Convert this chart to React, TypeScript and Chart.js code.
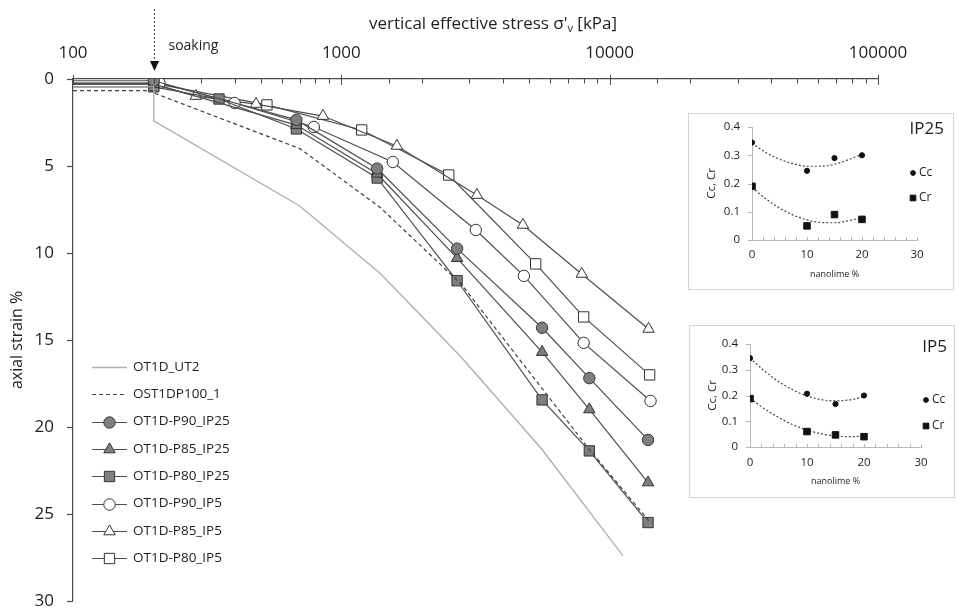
import React, { useEffect, useRef } from 'react';
import { Chart, registerables } from 'chart.js';

Chart.register(...registerables);

const FONT = "'Open Sans', 'Noto Sans', sans-serif";

// ---------- main chart data (stress kPa, axial strain %) ----------
const ut2Stress = [100, 200, 200, 700, 1400, 2800, 5600, 11200];
const ut2Strain = [0.45, 0.45, 2.4, 7.3, 11.2, 16.0, 21.3, 27.4];
const ost100Stress = [100, 200, 200, 700, 1400, 2800, 8400, 14000];
const ost100Strain = [0.67, 0.67, 0.8, 4.0, 7.4, 11.8, 21.3, 25.4];
const p90ip25Stress = [100, 200, 680, 1360, 2700, 5600, 8400, 13900];
const p90ip25Strain = [0.1, 0.1, 2.35, 5.15, 9.75, 14.3, 17.2, 20.75];
const p85ip25Stress = [100, 200, 680, 1360, 2700, 5600, 8400, 13900];
const p85ip25Strain = [0.3, 0.3, 2.65, 5.45, 10.3, 15.7, 19.0, 23.2];
const p80ip25Stress = [100, 200, 350, 680, 1360, 2700, 5600, 8400, 13900];
const p80ip25Strain = [0.45, 0.45, 1.15, 2.87, 5.69, 11.6, 18.45, 21.38, 25.5];
const p90ip5Stress = [100, 210, 400, 790, 1555, 3170, 4790, 8000, 14200];
const p90ip5Strain = [0.23, 0.23, 1.38, 2.76, 4.77, 8.68, 11.32, 15.17, 18.51];
const p85ip5Stress = [100, 200, 287, 481, 854, 1610, 3200, 4750, 7870, 13960];
const p85ip5Strain = [0.3, 0.3, 0.98, 1.44, 2.13, 3.85, 6.67, 8.39, 11.21, 14.37];
const p80ip5Stress = [100, 200, 528, 1191, 2513, 5300, 8000, 14090];
const p80ip5Strain = [0.25, 0.25, 1.49, 2.93, 5.52, 10.63, 13.68, 17.01];

const soakingStress = 200;
const yTickStep = 5;

// ---------- inset data ----------
const nanolimePct = [0, 10, 15, 20];
const ip25Cc = [0.345, 0.245, 0.29, 0.3];
const ip25Cr = [0.19, 0.05, 0.09, 0.073];
const ip5Cc = [0.345, 0.207, 0.167, 0.2];
const ip5Cr = [0.188, 0.06, 0.047, 0.04];
const trendPct = [0, 2.5, 5, 7.5, 10, 12.5, 15, 17.5, 20];
const ip25CcTrend = [0.342, 0.31, 0.286, 0.27, 0.261, 0.261, 0.268, 0.284, 0.303];
const ip25CrTrend = [0.186, 0.146, 0.113, 0.088, 0.071, 0.062, 0.061, 0.068, 0.08];
const ip5CcTrend = [0.346, 0.296, 0.254, 0.222, 0.198, 0.184, 0.179, 0.183, 0.195];
const ip5CrTrend = [0.189, 0.149, 0.115, 0.087, 0.066, 0.051, 0.043, 0.04, 0.043];

type SeriesDef = {
  label: string;
  stress: number[];
  strain: number[];
  line: string;
  width: number;
  dash: number[];
  marker: string | null;
  radius: number;
  fill: string;
};

const SERIES: SeriesDef[] = [
  { label: 'OT1D_UT2', stress: ut2Stress, strain: ut2Strain, line: '#b0b0b0', width: 1.4, dash: [], marker: null, radius: 0, fill: '#fff' },
  { label: 'OST1DP100_1', stress: ost100Stress, strain: ost100Strain, line: '#3f3f3f', width: 1.2, dash: [4, 3], marker: null, radius: 0, fill: '#fff' },
  { label: 'OT1D-P90_IP25', stress: p90ip25Stress, strain: p90ip25Strain, line: '#4e4e4e', width: 1.2, dash: [], marker: 'circle', radius: 5.7, fill: '#7f7f7f' },
  { label: 'OT1D-P85_IP25', stress: p85ip25Stress, strain: p85ip25Strain, line: '#4e4e4e', width: 1.2, dash: [], marker: 'triangle', radius: 6.6, fill: '#7f7f7f' },
  { label: 'OT1D-P80_IP25', stress: p80ip25Stress, strain: p80ip25Strain, line: '#4e4e4e', width: 1.2, dash: [], marker: 'rect', radius: 7.3, fill: '#7f7f7f' },
  { label: 'OT1D-P90_IP5', stress: p90ip5Stress, strain: p90ip5Strain, line: '#4e4e4e', width: 1.2, dash: [], marker: 'circle', radius: 5.7, fill: '#ffffff' },
  { label: 'OT1D-P85_IP5', stress: p85ip5Stress, strain: p85ip5Strain, line: '#4e4e4e', width: 1.2, dash: [], marker: 'triangle', radius: 6.6, fill: '#ffffff' },
  { label: 'OT1D-P80_IP5', stress: p80ip5Stress, strain: p80ip5Strain, line: '#4e4e4e', width: 1.2, dash: [], marker: 'rect', radius: 7.3, fill: '#ffffff' },
];

function isPow10(v: number) {
  const l = Math.log10(v);
  return Math.abs(l - Math.round(l)) < 1e-9;
}

function drawMarker(ctx: CanvasRenderingContext2D, style: string, x: number, y: number, r: number) {
  ctx.beginPath();
  if (style === 'circle') {
    ctx.arc(x, y, r, 0, Math.PI * 2);
  } else if (style === 'rect') {
    const s = r * Math.SQRT1_2;
    ctx.rect(x - s, y - s, 2 * s, 2 * s);
  } else if (style === 'triangle') {
    for (let k = 0; k < 3; k++) {
      const a = (k * 2 * Math.PI) / 3;
      const px = x + Math.sin(a) * r;
      const py = y - Math.cos(a) * r;
      if (k === 0) ctx.moveTo(px, py);
      else ctx.lineTo(px, py);
    }
    ctx.closePath();
  }
  ctx.fill();
  ctx.stroke();
}

const mainDecor = {
  id: 'mainDecor',
  afterDraw(chart: any) {
    const { ctx, chartArea } = chart;
    const xs = chart.scales.x;
    const ys = chart.scales.y;
    const top = chartArea.top;
    ctx.save();
    // x tick marks (major crossing, minor inward)
    ctx.strokeStyle = '#4a4a4a';
    ctx.lineWidth = 1;
    xs.ticks.forEach((t: any) => {
      const px = Math.round(xs.getPixelForValue(t.value)) + 0.5;
      const major = isPow10(t.value);
      ctx.beginPath();
      ctx.moveTo(px, major ? top - 4 : top);
      ctx.lineTo(px, major ? top + 6 : top + 4.5);
      ctx.stroke();
    });
    // y tick marks (outward, left)
    ctx.lineWidth = 1.2;
    ys.ticks.forEach((t: any) => {
      const py = Math.round(ys.getPixelForValue(t.value)) + 0.5;
      ctx.beginPath();
      ctx.moveTo(chartArea.left - 6, py);
      ctx.lineTo(chartArea.left, py);
      ctx.stroke();
    });

    // x title with subscript
    ctx.fillStyle = '#1e1e1e';
    ctx.textBaseline = 'alphabetic';
    ctx.font = `17px ${FONT}`;
    const part1 = "vertical effective stress σ'";
    const part3 = ' [kPa]';
    const w1 = ctx.measureText(part1).width;
    const w3 = ctx.measureText(part3).width;
    ctx.font = `11px ${FONT}`;
    const w2 = ctx.measureText('v').width;
    const total = w1 + w2 + w3;
    const sx0 = 493 - total / 2;
    const base = 29;
    ctx.font = `17px ${FONT}`;
    ctx.fillText(part1, sx0, base);
    ctx.font = `11px ${FONT}`;
    ctx.fillText('v', sx0 + w1, base + 3);
    ctx.font = `17px ${FONT}`;
    ctx.fillText(part3, sx0 + w1 + w2, base);

    // soaking arrow
    const ax = Math.round(xs.getPixelForValue(soakingStress)) + 0.5;
    ctx.strokeStyle = '#555';
    ctx.lineWidth = 1.2;
    ctx.setLineDash([2, 2]);
    ctx.beginPath();
    ctx.moveTo(ax, 9);
    ctx.lineTo(ax, 62);
    ctx.stroke();
    ctx.setLineDash([]);
    ctx.fillStyle = '#111';
    ctx.beginPath();
    ctx.moveTo(ax - 4.5, 61);
    ctx.lineTo(ax + 4.5, 61);
    ctx.lineTo(ax, 71);
    ctx.closePath();
    ctx.fill();
    ctx.font = `14px ${FONT}`;
    ctx.fillStyle = '#1e1e1e';
    ctx.textBaseline = 'middle';
    ctx.fillText('soaking', ax + 14, 46);

    // legend
    const lx0 = 92;
    const lx1 = 127;
    SERIES.forEach((s, i) => {
      const y = 367 + i * 27.3;
      ctx.strokeStyle = s.line;
      ctx.lineWidth = s.width;
      ctx.setLineDash(s.dash);
      ctx.beginPath();
      ctx.moveTo(lx0, Math.round(y) + 0.5);
      ctx.lineTo(lx1, Math.round(y) + 0.5);
      ctx.stroke();
      ctx.setLineDash([]);
      if (s.marker) {
        ctx.fillStyle = s.fill;
        ctx.strokeStyle = '#333';
        ctx.lineWidth = 1;
        drawMarker(ctx, s.marker, (lx0 + lx1) / 2, Math.round(y) + 0.5, s.radius);
      }
      ctx.fillStyle = '#1e1e1e';
      ctx.font = `13.5px ${FONT}`;
      ctx.textBaseline = 'middle';
      ctx.fillText(s.label, 133, y);
    });
    ctx.restore();
  },
};

type InsetCfg = {
  name: string;
  cc: number[];
  cr: number[];
  ccTrend: number[];
  crTrend: number[];
  padTop: number;
  padRight: number;
  yAxisW: number;
  xAxisH: number;
  xLabelPad: number;
  xTitlePad: number;
  nameRight: number;
  nameY: number;
  legX: number;
  legCcY: number;
  legCrY: number;
};

const IP25_CFG: InsetCfg = {
  name: 'IP25', cc: ip25Cc, cr: ip25Cr, ccTrend: ip25CcTrend, crTrend: ip25CrTrend,
  padTop: 14, padRight: 37, yAxisW: 64, xAxisH: 50, xLabelPad: 8, xTitlePad: 10,
  nameRight: 256, nameY: 16, legX: 225, legCcY: 60, legCrY: 85,
};
const IP5_CFG: InsetCfg = {
  name: 'IP5', cc: ip5Cc, cr: ip5Cr, ccTrend: ip5CcTrend, crTrend: ip5CrTrend,
  padTop: 19, padRight: 34, yAxisW: 61, xAxisH: 51, xLabelPad: 9, xTitlePad: 11,
  nameRight: 258, nameY: 22, legX: 237, legCcY: 75, legCrY: 101,
};

function insetDecor(cfg: InsetCfg) {
  return {
    id: 'insetDecor',
    afterDraw(chart: any) {
      const { ctx, width, height, chartArea } = chart;
      ctx.save();
      ctx.strokeStyle = '#d4d4d4';
      ctx.lineWidth = 1;
      ctx.strokeRect(0.5, 0.5, width - 1, height - 1);
      const xs = chart.scales.x;
      const ys = chart.scales.y;
      ctx.strokeStyle = '#b8b8b8';
      xs.ticks.forEach((t: any) => {
        const px = Math.round(xs.getPixelForValue(t.value)) + 0.5;
        ctx.beginPath();
        ctx.moveTo(px, chartArea.bottom);
        ctx.lineTo(px, chartArea.bottom - 3);
        ctx.stroke();
      });
      ys.ticks.forEach((t: any) => {
        const py = Math.round(ys.getPixelForValue(t.value)) + 0.5;
        ctx.beginPath();
        ctx.moveTo(chartArea.left - 4, py);
        ctx.lineTo(chartArea.left, py);
        ctx.stroke();
      });
      ctx.fillStyle = '#1e1e1e';
      ctx.font = `17px ${FONT}`;
      ctx.textAlign = 'right';
      ctx.textBaseline = 'middle';
      ctx.fillText(cfg.name, cfg.nameRight, cfg.nameY);
      ctx.textAlign = 'left';
      ctx.font = `12px ${FONT}`;
      ctx.fillStyle = '#111';
      ctx.strokeStyle = '#111';
      drawMarker(ctx, 'circle', cfg.legX, cfg.legCcY, 2.4);
      drawMarker(ctx, 'rect', cfg.legX, cfg.legCrY, 4);
      ctx.fillStyle = '#1e1e1e';
      ctx.fillText(chart.data.datasets[0].label, cfg.legX + 6, cfg.legCcY);
      ctx.fillText(chart.data.datasets[1].label, cfg.legX + 6, cfg.legCrY);
      ctx.restore();
    },
  };
}

function pts(xs: number[], ys: number[]) {
  return xs.map((x, i) => ({ x, y: ys[i] }));
}

function makeMain(canvas: HTMLCanvasElement) {
  return new Chart(canvas, {
    type: 'line',
    data: {
      datasets: SERIES.map((s) => ({
        label: s.label,
        data: pts(s.stress, s.strain),
        borderColor: s.line,
        borderWidth: s.width,
        borderDash: s.dash,
        pointStyle: (s.marker || 'circle') as any,
        pointRadius: (c: any) => (!s.marker || c.dataIndex === 0 ? 0 : s.radius),
        pointBackgroundColor: s.fill,
        pointBorderColor: '#333',
        pointBorderWidth: 1,
        tension: 0,
        fill: false,
      })),
    },
    options: {
      responsive: false,
      animation: false,
      events: [],
      layout: { padding: { left: 0, top: 0, right: 83, bottom: 10 } },
      plugins: { legend: { display: false }, tooltip: { enabled: false } },
      scales: {
        x: {
          type: 'logarithmic',
          position: 'top',
          min: 100,
          max: 100000,
          grid: { display: false, drawTicks: false },
          border: { display: true, color: '#4a4a4a', width: 1.2 },
          ticks: {
            autoSkip: false,
            maxRotation: 0,
            padding: 16,
            color: '#1e1e1e',
            font: { family: FONT, size: 17 },
            callback: (v: any) => (isPow10(Number(v)) ? String(v) : ''),
          },
          afterFit: (s: any) => {
            s.height = 79;
          },
        },
        y: {
          type: 'linear',
          reverse: true,
          min: 0,
          max: 30,
          grid: { drawOnChartArea: false, drawTicks: true, tickLength: 19, tickColor: 'rgba(0,0,0,0)' },
          border: { display: true, color: '#4a4a4a', width: 1.2 },
          ticks: {
            stepSize: yTickStep,
            padding: 0,
            color: '#1e1e1e',
            font: { family: FONT, size: 17 },
          },
          title: {
            display: true,
            text: 'axial strain %',
            color: '#1e1e1e',
            font: { family: FONT, size: 16 },
            padding: { top: 8, bottom: 0 },
          },
          afterFit: (s: any) => {
            s.width = 73;
          },
        },
      },
    },
    plugins: [mainDecor],
  } as any);
}

function makeInset(canvas: HTMLCanvasElement, cfg: InsetCfg) {
  return new Chart(canvas, {
    type: 'line',
    data: {
      datasets: [
        { label: 'Cc', data: pts(nanolimePct, cfg.cc), showLine: false, pointStyle: 'circle', pointRadius: 2.6, pointBackgroundColor: '#111', pointBorderColor: '#111', pointBorderWidth: 1 },
        { label: 'Cr', data: pts(nanolimePct, cfg.cr), showLine: false, pointStyle: 'rect', pointRadius: 4.6, pointBackgroundColor: '#111', pointBorderColor: '#111', pointBorderWidth: 1 },
        { label: 'Cc trend', data: pts(trendPct, cfg.ccTrend), borderColor: '#444', borderWidth: 1.2, borderDash: [2, 2], pointRadius: 0, cubicInterpolationMode: 'monotone' },
        { label: 'Cr trend', data: pts(trendPct, cfg.crTrend), borderColor: '#444', borderWidth: 1.2, borderDash: [2, 2], pointRadius: 0, cubicInterpolationMode: 'monotone' },
      ],
    },
    options: {
      responsive: false,
      animation: false,
      events: [],
      layout: { padding: { left: 0, top: cfg.padTop, right: cfg.padRight, bottom: 0 } },
      plugins: { legend: { display: false }, tooltip: { enabled: false } },
      scales: {
        x: {
          type: 'linear',
          min: 0,
          max: 30,
          grid: { display: false, drawTicks: false },
          border: { display: true, color: '#b8b8b8' },
          ticks: {
            stepSize: 2,
            autoSkip: false,
            maxRotation: 0,
            padding: cfg.xLabelPad,
            color: '#1e1e1e',
            font: { family: FONT, size: 11.5 },
            callback: (v: any) => (Number(v) % 10 === 0 ? String(v) : ''),
          },
          title: {
            display: true,
            text: 'nanolime %',
            color: '#1e1e1e',
            font: { family: FONT, size: 9 },
            padding: { top: 0, bottom: cfg.xTitlePad },
          },
          afterFit: (s: any) => {
            s.height = cfg.xAxisH;
          },
        },
        y: {
          type: 'linear',
          min: 0,
          max: 0.4,
          grid: { drawOnChartArea: false, drawTicks: true, tickLength: 12, tickColor: 'rgba(0,0,0,0)' },
          border: { display: true, color: '#b8b8b8' },
          ticks: {
            stepSize: 0.1,
            padding: 0,
            color: '#1e1e1e',
            font: { family: FONT, size: 11.5 },
            callback: (v: any) => (Number(v) === 0 ? '0' : Number(v).toFixed(1)),
          },
          title: {
            display: true,
            text: 'Cc, Cr',
            color: '#1e1e1e',
            font: { family: FONT, size: 11.5 },
            padding: { top: 17, bottom: 0 },
          },
          afterFit: (s: any) => {
            s.width = cfg.yAxisW;
          },
        },
      },
    },
    plugins: [insetDecor(cfg)],
  } as any);
}

export default function App() {
  const mainRef = useRef<HTMLCanvasElement>(null);
  const ip25Ref = useRef<HTMLCanvasElement>(null);
  const ip5Ref = useRef<HTMLCanvasElement>(null);

  useEffect(() => {
    const charts: Chart[] = [];
    if (mainRef.current) charts.push(makeMain(mainRef.current));
    if (ip25Ref.current) charts.push(makeInset(ip25Ref.current, IP25_CFG));
    if (ip5Ref.current) charts.push(makeInset(ip5Ref.current, IP5_CFG));
    return () => charts.forEach((c) => c.destroy());
  }, []);

  return (
    <div style={{ position: 'absolute', left: 0, top: 0, width: 961, height: 611, background: '#fff', overflow: 'hidden' }}>
      <canvas ref={mainRef} width={961} height={611} style={{ position: 'absolute', left: 0, top: 0, width: 961, height: 611 }} />
      <canvas ref={ip25Ref} width={266} height={177} style={{ position: 'absolute', left: 688, top: 113, width: 266, height: 177, background: '#fff' }} />
      <canvas ref={ip5Ref} width={266} height={173} style={{ position: 'absolute', left: 689, top: 325, width: 266, height: 173, background: '#fff' }} />
    </div>
  );
}
